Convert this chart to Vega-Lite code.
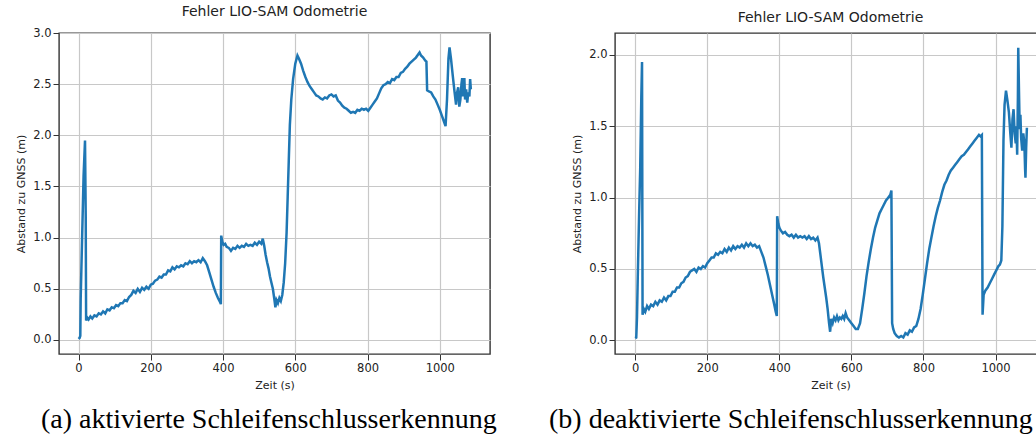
{
  "$schema": "https://vega.github.io/schema/vega-lite/v6.json",
  "padding": {"left": 15, "top": 4, "right": 0, "bottom": 0},
  "background": "white",
  "datasets": {
    "a": [
      {"t":0,"e":0.01},{"t":3,"e":0.02},{"t":5,"e":0.04},{"t":6,"e":0.4},{"t":10,"e":1.0},{"t":14,"e":1.6},{"t":18,"e":1.95},{"t":20,"e":1.2},{"t":21,"e":0.19},{"t":24,"e":0.22},{"t":28,"e":0.2},{"t":33,"e":0.23},{"t":38,"e":0.21},{"t":44,"e":0.24},{"t":50,"e":0.23},{"t":56,"e":0.26},{"t":62,"e":0.25},{"t":68,"e":0.28},{"t":74,"e":0.26},{"t":80,"e":0.3},{"t":86,"e":0.29},{"t":92,"e":0.32},{"t":98,"e":0.31},{"t":104,"e":0.34},{"t":110,"e":0.33},{"t":116,"e":0.36},{"t":122,"e":0.36},{"t":128,"e":0.39},{"t":134,"e":0.38},{"t":140,"e":0.42},{"t":146,"e":0.44},{"t":152,"e":0.48},{"t":158,"e":0.46},{"t":164,"e":0.5},{"t":170,"e":0.47},{"t":176,"e":0.51},{"t":182,"e":0.49},{"t":188,"e":0.52},{"t":194,"e":0.5},{"t":200,"e":0.54},{"t":206,"e":0.55},{"t":212,"e":0.58},{"t":218,"e":0.59},{"t":224,"e":0.62},{"t":230,"e":0.61},{"t":236,"e":0.64},{"t":242,"e":0.64},{"t":248,"e":0.68},{"t":254,"e":0.67},{"t":260,"e":0.71},{"t":266,"e":0.69},{"t":272,"e":0.72},{"t":278,"e":0.71},{"t":284,"e":0.73},{"t":290,"e":0.72},{"t":296,"e":0.75},{"t":302,"e":0.74},{"t":308,"e":0.77},{"t":314,"e":0.75},{"t":320,"e":0.77},{"t":326,"e":0.76},{"t":332,"e":0.78},{"t":338,"e":0.76},{"t":344,"e":0.8},{"t":350,"e":0.77},{"t":356,"e":0.73},{"t":362,"e":0.66},{"t":368,"e":0.59},{"t":374,"e":0.52},{"t":380,"e":0.46},{"t":386,"e":0.41},{"t":392,"e":0.37},{"t":394,"e":0.35},{"t":395,"e":1.02},{"t":398,"e":0.96},{"t":402,"e":0.93},{"t":406,"e":0.94},{"t":410,"e":0.91},{"t":416,"e":0.9},{"t":422,"e":0.87},{"t":428,"e":0.9},{"t":434,"e":0.89},{"t":440,"e":0.92},{"t":446,"e":0.9},{"t":452,"e":0.92},{"t":458,"e":0.91},{"t":464,"e":0.94},{"t":470,"e":0.92},{"t":476,"e":0.93},{"t":482,"e":0.92},{"t":488,"e":0.95},{"t":494,"e":0.93},{"t":500,"e":0.96},{"t":506,"e":0.94},{"t":510,"e":0.99},{"t":514,"e":0.92},{"t":518,"e":0.83},{"t":522,"e":0.76},{"t":526,"e":0.7},{"t":530,"e":0.62},{"t":534,"e":0.56},{"t":538,"e":0.5},{"t":542,"e":0.4},{"t":545,"e":0.32},{"t":548,"e":0.39},{"t":552,"e":0.36},{"t":556,"e":0.41},{"t":560,"e":0.38},{"t":564,"e":0.44},{"t":568,"e":0.56},{"t":572,"e":0.75},{"t":576,"e":1.05},{"t":579,"e":1.4},{"t":582,"e":1.75},{"t":585,"e":2.1},{"t":589,"e":2.35},{"t":594,"e":2.55},{"t":600,"e":2.7},{"t":606,"e":2.78},{"t":610,"e":2.75},{"t":616,"e":2.7},{"t":622,"e":2.63},{"t":628,"e":2.57},{"t":634,"e":2.52},{"t":640,"e":2.48},{"t":646,"e":2.45},{"t":652,"e":2.42},{"t":658,"e":2.39},{"t":664,"e":2.38},{"t":670,"e":2.36},{"t":676,"e":2.35},{"t":682,"e":2.37},{"t":688,"e":2.36},{"t":694,"e":2.39},{"t":700,"e":2.4},{"t":706,"e":2.38},{"t":712,"e":2.39},{"t":718,"e":2.34},{"t":724,"e":2.32},{"t":730,"e":2.29},{"t":736,"e":2.27},{"t":742,"e":2.26},{"t":748,"e":2.24},{"t":754,"e":2.22},{"t":760,"e":2.23},{"t":766,"e":2.22},{"t":772,"e":2.25},{"t":778,"e":2.24},{"t":784,"e":2.26},{"t":790,"e":2.25},{"t":796,"e":2.26},{"t":802,"e":2.24},{"t":808,"e":2.27},{"t":814,"e":2.3},{"t":820,"e":2.33},{"t":826,"e":2.36},{"t":832,"e":2.41},{"t":838,"e":2.46},{"t":844,"e":2.49},{"t":850,"e":2.5},{"t":856,"e":2.52},{"t":862,"e":2.51},{"t":868,"e":2.55},{"t":874,"e":2.54},{"t":880,"e":2.57},{"t":886,"e":2.57},{"t":892,"e":2.61},{"t":898,"e":2.62},{"t":904,"e":2.65},{"t":910,"e":2.67},{"t":916,"e":2.7},{"t":922,"e":2.72},{"t":928,"e":2.74},{"t":934,"e":2.76},{"t":940,"e":2.79},{"t":944,"e":2.81},{"t":948,"e":2.78},{"t":954,"e":2.76},{"t":960,"e":2.73},{"t":963,"e":2.72},{"t":965,"e":2.44},{"t":970,"e":2.43},{"t":976,"e":2.42},{"t":982,"e":2.38},{"t":988,"e":2.35},{"t":994,"e":2.3},{"t":1000,"e":2.25},{"t":1006,"e":2.19},{"t":1012,"e":2.13},{"t":1016,"e":2.09},{"t":1020,"e":2.35},{"t":1024,"e":2.75},{"t":1027,"e":2.86},{"t":1031,"e":2.75},{"t":1036,"e":2.58},{"t":1041,"e":2.42},{"t":1045,"e":2.3},{"t":1048,"e":2.42},{"t":1051,"e":2.47},{"t":1054,"e":2.28},{"t":1057,"e":2.35},{"t":1060,"e":2.5},{"t":1062,"e":2.56},{"t":1064,"e":2.38},{"t":1066,"e":2.45},{"t":1068,"e":2.56},{"t":1070,"e":2.35},{"t":1073,"e":2.45},{"t":1076,"e":2.32},{"t":1079,"e":2.42},{"t":1082,"e":2.38},{"t":1084,"e":2.55},{"t":1086,"e":2.45}
    ],
    "b": [
      {"t":0,"e":0.015},{"t":3,"e":0.02},{"t":5,"e":0.16},{"t":7,"e":0.42},{"t":11,"e":0.9},{"t":14,"e":1.21},{"t":17,"e":1.7},{"t":19,"e":1.95},{"t":20.5,"e":0.18},{"t":24,"e":0.22},{"t":28,"e":0.2},{"t":33,"e":0.24},{"t":38,"e":0.22},{"t":44,"e":0.25},{"t":50,"e":0.24},{"t":56,"e":0.27},{"t":62,"e":0.25},{"t":68,"e":0.28},{"t":74,"e":0.27},{"t":80,"e":0.3},{"t":86,"e":0.28},{"t":92,"e":0.31},{"t":98,"e":0.31},{"t":104,"e":0.34},{"t":110,"e":0.34},{"t":116,"e":0.37},{"t":122,"e":0.37},{"t":128,"e":0.4},{"t":134,"e":0.41},{"t":140,"e":0.44},{"t":146,"e":0.45},{"t":152,"e":0.48},{"t":158,"e":0.49},{"t":164,"e":0.5},{"t":170,"e":0.48},{"t":176,"e":0.51},{"t":182,"e":0.5},{"t":188,"e":0.52},{"t":194,"e":0.51},{"t":200,"e":0.54},{"t":206,"e":0.56},{"t":212,"e":0.58},{"t":218,"e":0.58},{"t":224,"e":0.61},{"t":230,"e":0.6},{"t":236,"e":0.62},{"t":242,"e":0.61},{"t":248,"e":0.64},{"t":254,"e":0.62},{"t":260,"e":0.65},{"t":266,"e":0.63},{"t":272,"e":0.66},{"t":278,"e":0.64},{"t":284,"e":0.66},{"t":290,"e":0.65},{"t":296,"e":0.67},{"t":302,"e":0.65},{"t":308,"e":0.68},{"t":314,"e":0.66},{"t":320,"e":0.68},{"t":326,"e":0.66},{"t":332,"e":0.67},{"t":338,"e":0.65},{"t":344,"e":0.66},{"t":350,"e":0.62},{"t":356,"e":0.58},{"t":362,"e":0.52},{"t":368,"e":0.46},{"t":374,"e":0.39},{"t":380,"e":0.32},{"t":386,"e":0.25},{"t":390,"e":0.2},{"t":393,"e":0.17},{"t":394,"e":0.87},{"t":397,"e":0.82},{"t":400,"e":0.79},{"t":404,"e":0.77},{"t":410,"e":0.75},{"t":416,"e":0.76},{"t":422,"e":0.74},{"t":428,"e":0.73},{"t":434,"e":0.74},{"t":440,"e":0.72},{"t":446,"e":0.74},{"t":452,"e":0.72},{"t":458,"e":0.73},{"t":464,"e":0.72},{"t":470,"e":0.73},{"t":476,"e":0.71},{"t":482,"e":0.73},{"t":488,"e":0.71},{"t":494,"e":0.72},{"t":500,"e":0.7},{"t":506,"e":0.72},{"t":510,"e":0.68},{"t":514,"e":0.6},{"t":518,"e":0.52},{"t":522,"e":0.44},{"t":526,"e":0.37},{"t":530,"e":0.3},{"t":534,"e":0.22},{"t":538,"e":0.12},{"t":541,"e":0.06},{"t":544,"e":0.15},{"t":548,"e":0.12},{"t":552,"e":0.16},{"t":556,"e":0.14},{"t":560,"e":0.17},{"t":564,"e":0.14},{"t":568,"e":0.16},{"t":572,"e":0.15},{"t":576,"e":0.17},{"t":580,"e":0.15},{"t":584,"e":0.19},{"t":588,"e":0.16},{"t":594,"e":0.14},{"t":600,"e":0.12},{"t":606,"e":0.1},{"t":612,"e":0.08},{"t":618,"e":0.08},{"t":624,"e":0.12},{"t":630,"e":0.22},{"t":636,"e":0.33},{"t":642,"e":0.45},{"t":648,"e":0.55},{"t":654,"e":0.64},{"t":660,"e":0.72},{"t":666,"e":0.79},{"t":672,"e":0.84},{"t":678,"e":0.89},{"t":684,"e":0.92},{"t":690,"e":0.95},{"t":696,"e":0.98},{"t":702,"e":1.0},{"t":708,"e":1.02},{"t":711,"e":1.05},{"t":713,"e":0.12},{"t":716,"e":0.08},{"t":720,"e":0.05},{"t":726,"e":0.03},{"t":732,"e":0.02},{"t":738,"e":0.03},{"t":744,"e":0.02},{"t":750,"e":0.05},{"t":756,"e":0.04},{"t":762,"e":0.07},{"t":768,"e":0.06},{"t":774,"e":0.09},{"t":780,"e":0.1},{"t":786,"e":0.15},{"t":792,"e":0.22},{"t":798,"e":0.32},{"t":804,"e":0.43},{"t":810,"e":0.54},{"t":816,"e":0.64},{"t":822,"e":0.72},{"t":828,"e":0.8},{"t":834,"e":0.87},{"t":840,"e":0.93},{"t":846,"e":0.98},{"t":852,"e":1.04},{"t":858,"e":1.09},{"t":864,"e":1.12},{"t":870,"e":1.16},{"t":876,"e":1.19},{"t":882,"e":1.21},{"t":888,"e":1.23},{"t":894,"e":1.25},{"t":900,"e":1.27},{"t":906,"e":1.29},{"t":912,"e":1.3},{"t":918,"e":1.32},{"t":924,"e":1.34},{"t":930,"e":1.36},{"t":936,"e":1.38},{"t":942,"e":1.4},{"t":948,"e":1.42},{"t":954,"e":1.44},{"t":958,"e":1.43},{"t":962,"e":1.44},{"t":964,"e":0.18},{"t":967,"e":0.32},{"t":972,"e":0.35},{"t":978,"e":0.37},{"t":984,"e":0.4},{"t":990,"e":0.43},{"t":996,"e":0.46},{"t":1002,"e":0.49},{"t":1008,"e":0.52},{"t":1012,"e":0.53},{"t":1016,"e":0.56},{"t":1019,"e":0.8},{"t":1022,"e":1.4},{"t":1025,"e":1.65},{"t":1029,"e":1.75},{"t":1033,"e":1.68},{"t":1037,"e":1.6},{"t":1041,"e":1.45},{"t":1044,"e":1.35},{"t":1047,"e":1.55},{"t":1050,"e":1.62},{"t":1053,"e":1.45},{"t":1056,"e":1.38},{"t":1058,"e":1.5},{"t":1060,"e":1.3},{"t":1062,"e":1.7},{"t":1063,"e":2.05},{"t":1065,"e":1.75},{"t":1067,"e":1.48},{"t":1069,"e":1.58},{"t":1071,"e":1.42},{"t":1074,"e":1.33},{"t":1077,"e":1.45},{"t":1080,"e":1.38},{"t":1082,"e":1.2},{"t":1083,"e":1.14},{"t":1085,"e":1.35},{"t":1087,"e":1.49}
    ]
  },
  "spacing": 52,
  "hconcat": [
    {
      "title": {"text": "(a) aktivierte Schleifenschlusserkennung", "orient": "bottom", "anchor": "middle", "font": "Liberation Serif", "fontSize": 28, "fontWeight": "normal", "color": "#000000", "offset": 15, "dx": 16},
      "vconcat": [
        {
          "width": 431, "height": 321,
          "data": {"name": "a"},
          "title": {"text": "Fehler LIO-SAM Odometrie", "font": "DejaVu Sans", "fontSize": 14, "fontWeight": "normal", "color": "#222222", "offset": 8},
          "mark": {"type": "line", "color": "#1f77b4", "strokeWidth": 2.5},
          "encoding": {
            "x": {"field": "t", "type": "quantitative", "scale": {"domain": [-54, 1139], "nice": false, "zero": false}, "axis": {"values": [0, 200, 400, 600, 800, 1000], "format": "d", "title": "Zeit (s)"}},
            "y": {"field": "e", "type": "quantitative", "scale": {"domain": [-0.137, 3.0], "nice": false, "zero": false}, "axis": {"values": [0, 0.5, 1, 1.5, 2, 2.5, 3], "format": ".1f", "title": "Abstand zu GNSS (m)"}}
          }
        }
      ]
    },
    {
      "title": {"text": "(b) deaktivierte Schleifenschlusserkennung", "orient": "bottom", "anchor": "middle", "font": "Liberation Serif", "fontSize": 28, "fontWeight": "normal", "color": "#000000", "offset": 15, "dx": -18},
      "vconcat": [
        {
          "width": 431, "height": 321,
          "data": {"name": "b"},
          "title": {"text": "Fehler LIO-SAM Odometrie", "font": "DejaVu Sans", "fontSize": 14, "fontWeight": "normal", "color": "#222222", "offset": 8},
          "mark": {"type": "line", "color": "#1f77b4", "strokeWidth": 2.5},
          "encoding": {
            "x": {"field": "t", "type": "quantitative", "scale": {"domain": [-56, 1140], "nice": false, "zero": false}, "axis": {"values": [0, 200, 400, 600, 800, 1000], "format": "d", "title": "Zeit (s)"}},
            "y": {"field": "e", "type": "quantitative", "scale": {"domain": [-0.096, 2.154], "nice": false, "zero": false}, "axis": {"values": [0, 0.5, 1, 1.5, 2], "format": ".1f", "title": "Abstand zu GNSS (m)"}}
          }
        }
      ]
    }
  ],
  "config": {
    "view": {"stroke": "#333333", "strokeWidth": 1.4},
    "axis": {"domain": false, "grid": true, "gridColor": "#c8c8c8", "gridWidth": 1.2, "tickColor": "#333333", "tickSize": 6, "tickWidth": 1, "labelFont": "DejaVu Sans", "labelFontSize": 11.5, "labelColor": "#222222", "labelPadding": 2, "titleFont": "DejaVu Sans", "titleFontSize": 11, "titleFontWeight": "normal", "titleColor": "#222222", "titlePadding": 6}
  }
}
